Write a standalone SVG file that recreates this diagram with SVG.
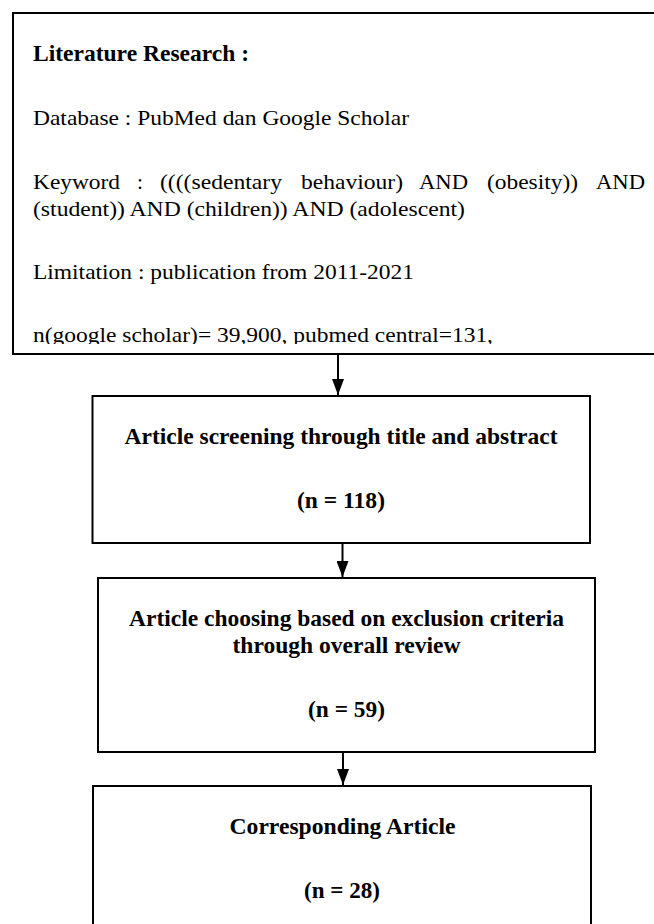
<svg xmlns="http://www.w3.org/2000/svg" width="654" height="924" viewBox="0 0 654 924">
<style>
  .box { fill: #ffffff; stroke: #000000; stroke-width: 2; }
  .t { font-family: "Liberation Serif", "Times New Roman", serif; font-size: 21.5px; fill: #000000; }
  .b { font-family: "Liberation Serif", "Times New Roman", serif; font-size: 22.5px; font-weight: bold; fill: #000000; }
  .c { text-anchor: middle; }
  .edge { stroke: #000000; stroke-width: 2; fill: none; }
</style>
<defs>
  <clipPath id="clipTop"><rect x="13" y="13" width="660" height="331"/></clipPath>
  <marker id="arr" markerWidth="16" markerHeight="12" refX="16" refY="6" orient="auto" markerUnits="userSpaceOnUse" viewBox="0 0 16 12">
    <path d="M0,0 L16,6 L0,12 Z" fill="#000000"/>
  </marker>
</defs>
<rect width="654" height="924" fill="#ffffff"/>

<g id="literature">
  <rect class="box" x="13" y="13" width="660" height="341"/>
  <g clip-path="url(#clipTop)">
    <text class="b" x="33" y="61" textLength="216" lengthAdjust="spacingAndGlyphs">Literature Research :</text>
    <text class="t" x="33" y="125" textLength="376" lengthAdjust="spacingAndGlyphs">Database : PubMed dan Google Scholar</text>
    <text class="t" x="33" y="189" textLength="87" lengthAdjust="spacingAndGlyphs">Keyword</text>
    <text class="t" x="137" y="189">:</text>
    <text class="t" x="160" y="189" textLength="122" lengthAdjust="spacingAndGlyphs">((((sedentary</text>
    <text class="t" x="301" y="189" textLength="102" lengthAdjust="spacingAndGlyphs">behaviour)</text>
    <text class="t" x="419" y="189" textLength="49" lengthAdjust="spacingAndGlyphs">AND</text>
    <text class="t" x="487" y="189" textLength="91" lengthAdjust="spacingAndGlyphs">(obesity))</text>
    <text class="t" x="596" y="189" textLength="49" lengthAdjust="spacingAndGlyphs">AND</text>
    <text class="t" x="33" y="216" textLength="432" lengthAdjust="spacingAndGlyphs">(student)) AND (children)) AND (adolescent)</text>
    <text class="t" x="33" y="279" textLength="381" lengthAdjust="spacingAndGlyphs">Limitation : publication from 2011-2021</text>
    <text class="t" x="33" y="342" textLength="460" lengthAdjust="spacingAndGlyphs">n(google scholar)= 39,900, pubmed central=131,</text>
  </g>
</g>

<g id="screening">
  <rect class="box" x="92.5" y="396" width="497.5" height="147"/>
  <text class="b c" x="341" y="444" textLength="433" lengthAdjust="spacingAndGlyphs">Article screening through title and abstract</text>
  <text class="b c" x="341" y="508" textLength="88" lengthAdjust="spacingAndGlyphs">(n = 118)</text>
</g>

<g id="choosing">
  <rect class="box" x="98" y="578" width="497" height="174"/>
  <text class="b c" x="346.5" y="626" textLength="435" lengthAdjust="spacingAndGlyphs">Article choosing based on exclusion criteria</text>
  <text class="b c" x="346.5" y="653" textLength="228" lengthAdjust="spacingAndGlyphs">through overall review</text>
  <text class="b c" x="346.5" y="717" textLength="77" lengthAdjust="spacingAndGlyphs">(n = 59)</text>
</g>

<g id="corresponding">
  <rect class="box" x="93" y="786" width="498" height="160"/>
  <text class="b c" x="342.5" y="834" textLength="226" lengthAdjust="spacingAndGlyphs">Corresponding Article</text>
  <text class="b c" x="342" y="898" textLength="76" lengthAdjust="spacingAndGlyphs">(n = 28)</text>
</g>

<g id="connectors">
  <line class="edge" x1="338" y1="355" x2="338" y2="395" marker-end="url(#arr)"/>
  <line class="edge" x1="342.5" y1="544" x2="342.5" y2="577" marker-end="url(#arr)"/>
  <line class="edge" x1="343" y1="753" x2="343" y2="785" marker-end="url(#arr)"/>
</g>
</svg>
